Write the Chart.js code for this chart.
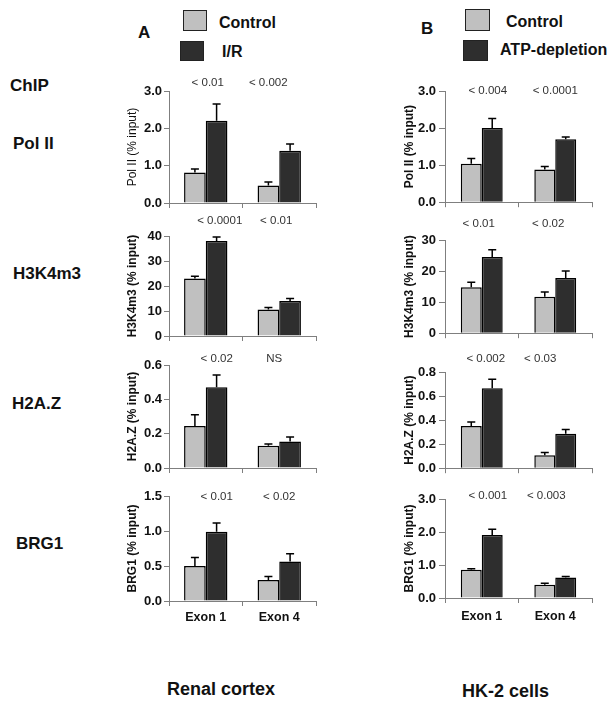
<!DOCTYPE html>
<html>
<head>
<meta charset="utf-8">
<script src="https://cdn.jsdelivr.net/npm/chart.js@4.4.1/dist/chart.umd.min.js"></script>
<style>
  body { margin: 0; background: #fff; }
  #fig { position: relative; width: 614px; height: 707px; overflow: hidden; font-family: "Liberation Sans", Arial, sans-serif; }
  .t { position: absolute; font-weight: bold; color: #111; white-space: nowrap; line-height: 1; transform: translateY(-50%); }
  .box { position: absolute; border: 1px solid #222; box-sizing: border-box; }
  canvas { position: absolute; }
</style>
</head>
<body>
<div id="fig">
  <div class="t" style="left:138px;top:32px;font-size:17px">A</div>
  <div class="t" style="left:421px;top:28px;font-size:17px">B</div>

  <div class="box" style="left:183px;top:10px;width:24px;height:21px;background:#c0c0c0"></div>
  <div class="box" style="left:180px;top:41px;width:24px;height:20px;background:#2e2e2e"></div>
  <div class="t" style="left:219px;top:23px;font-size:16px">Control</div>
  <div class="t" style="left:222px;top:52px;font-size:16px">I/R</div>

  <div class="box" style="left:465px;top:9px;width:25px;height:22px;background:#c0c0c0"></div>
  <div class="box" style="left:463px;top:40px;width:25px;height:21px;background:#2e2e2e"></div>
  <div class="t" style="left:506px;top:22px;font-size:16px">Control</div>
  <div class="t" style="left:500px;top:50px;font-size:16px">ATP-depletion</div>

  <div class="t" style="left:10px;top:85px;font-size:17px">ChIP</div>
  <div class="t" style="left:13px;top:143px;font-size:17px">Pol II</div>
  <div class="t" style="left:13px;top:273px;font-size:17px">H3K4m3</div>
  <div class="t" style="left:12px;top:403px;font-size:17px">H2A.Z</div>
  <div class="t" style="left:16px;top:543px;font-size:17px">BRG1</div>

  <div class="t" style="left:167px;top:689px;font-size:18px">Renal cortex</div>
  <div class="t" style="left:462px;top:691px;font-size:18px">HK-2 cells</div>
</div>

<script>
// categories
const EXONS = ['Exon 1', 'Exon 4'];

// A : renal cortex, Control vs I/R  (mean, error)
const A_POL2_CTRL = [0.82, 0.47];
const A_POL2_CTRL_ERR = [0.09, 0.09];
const A_POL2_IR = [2.2, 1.4];
const A_POL2_IR_ERR = [0.45, 0.18];
const A_POL2_P = ['< 0.01', '< 0.002'];

const A_H3K4_CTRL = [23, 10.6];
const A_H3K4_CTRL_ERR = [0.9, 0.8];
const A_H3K4_IR = [38, 14];
const A_H3K4_IR_ERR = [1.6, 1.0];
const A_H3K4_P = ['< 0.0001', '< 0.01'];

const A_H2AZ_CTRL = [0.245, 0.13];
const A_H2AZ_CTRL_ERR = [0.065, 0.01];
const A_H2AZ_IR = [0.47, 0.155];
const A_H2AZ_IR_ERR = [0.072, 0.025];
const A_H2AZ_P = ['< 0.02', 'NS'];

const A_BRG1_CTRL = [0.50, 0.30];
const A_BRG1_CTRL_ERR = [0.12, 0.05];
const A_BRG1_IR = [0.99, 0.565];
const A_BRG1_IR_ERR = [0.125, 0.11];
const A_BRG1_P = ['< 0.01', '< 0.02'];

// B : HK-2 cells, Control vs ATP-depletion
const B_POL2_CTRL = [1.04, 0.88];
const B_POL2_CTRL_ERR = [0.14, 0.08];
const B_POL2_ATP = [2.0, 1.7];
const B_POL2_ATP_ERR = [0.26, 0.06];
const B_POL2_P = ['< 0.004', '< 0.0001'];

const B_H3K4_CTRL = [14.8, 11.7];
const B_H3K4_CTRL_ERR = [1.6, 1.6];
const B_H3K4_ATP = [24.5, 17.8];
const B_H3K4_ATP_ERR = [2.4, 2.2];
const B_H3K4_P = ['< 0.01', '< 0.02'];

const B_H2AZ_CTRL = [0.35, 0.108];
const B_H2AZ_CTRL_ERR = [0.035, 0.022];
const B_H2AZ_ATP = [0.665, 0.286];
const B_H2AZ_ATP_ERR = [0.075, 0.035];
const B_H2AZ_P = ['< 0.002', '< 0.03'];

const B_BRG1_CTRL = [0.855, 0.40];
const B_BRG1_CTRL_ERR = [0.03, 0.05];
const B_BRG1_ATP = [1.91, 0.62];
const B_BRG1_ATP_ERR = [0.17, 0.03];
const B_BRG1_P = ['< 0.001', '< 0.003'];

// y tick labels
const TICKS_0_3 = [0, 1, 2, 3];
const TICKS_0_40 = [0, 10, 20, 30, 40];
const TICKS_0_30 = [0, 10, 20, 30];
const TICKS_0_06 = [0, 0.2, 0.4, 0.6];
const TICKS_0_08 = [0, 0.2, 0.4, 0.6, 0.8];
const TICKS_0_15 = [0, 0.5, 1.0, 1.5];

const FONT = '"Liberation Sans", Arial, sans-serif';
const LIGHT = '#c0c0c0';
const DARK = '#2e2e2e';
const AXIS = '#7f7f7f';
const PAD_TOP = 30;

// column geometry
const COLS = {
  A: { left: 110, width: 220, axisW: 59, padR: 14, titlePad: 15, tickLen: 5, tickPad: 2, xPad: 4, cat: 0.59 },
  B: { left: 385, width: 229, axisW: 60, padR: 22, titlePad: 17, tickLen: 6, tickPad: 3, xPad: 6, cat: 0.57 }
};

const PANELS = [
  { col: 'A', plot: [91, 203], ctrl: A_POL2_CTRL, ctrlErr: A_POL2_CTRL_ERR, trt: A_POL2_IR, trtErr: A_POL2_IR_ERR,
    p: A_POL2_P, pOff: [[2, -8], [-11, -8]], ticks: TICKS_0_3, dec: 1, title: 'Pol II (% input)', titleW: 'normal' },
  { col: 'A', plot: [236, 336], ctrl: A_H3K4_CTRL, ctrlErr: A_H3K4_CTRL_ERR, trt: A_H3K4_IR, trtErr: A_H3K4_IR_ERR,
    p: A_H3K4_P, pOff: [[14, -15], [-3, -15]], ticks: TICKS_0_40, dec: 0, title: 'H3K4m3 (% input)', titleW: 'bold' },
  { col: 'A', plot: [365, 468], ctrl: A_H2AZ_CTRL, ctrlErr: A_H2AZ_CTRL_ERR, trt: A_H2AZ_IR, trtErr: A_H2AZ_IR_ERR,
    p: A_H2AZ_P, pOff: [[11, -6], [-5, -6]], ticks: TICKS_0_06, dec: 1, title: 'H2A.Z (% input)', titleW: 'bold' },
  { col: 'A', plot: [496, 601], ctrl: A_BRG1_CTRL, ctrlErr: A_BRG1_CTRL_ERR, trt: A_BRG1_IR, trtErr: A_BRG1_IR_ERR,
    p: A_BRG1_P, pOff: [[11, 1], [0, 1]], ticks: TICKS_0_15, dec: 1, title: 'BRG1 (% input)', titleW: 'bold', bottom: true },

  { col: 'B', plot: [91, 203], ctrl: B_POL2_CTRL, ctrlErr: B_POL2_CTRL_ERR, trt: B_POL2_ATP, trtErr: B_POL2_ATP_ERR,
    p: B_POL2_P, pOff: [[6, 0], [0, 0]], ticks: TICKS_0_3, dec: 1, title: 'Pol II (% input)', titleW: 'bold' },
  { col: 'B', plot: [240, 334], ctrl: B_H3K4_CTRL, ctrlErr: B_H3K4_CTRL_ERR, trt: B_H3K4_ATP, trtErr: B_H3K4_ATP_ERR,
    p: B_H3K4_P, pOff: [[-3, -16], [-7, -16]], ticks: TICKS_0_30, dec: 0, title: 'H3K4m3 (% input)', titleW: 'bold' },
  { col: 'B', plot: [372, 469], ctrl: B_H2AZ_CTRL, ctrlErr: B_H2AZ_CTRL_ERR, trt: B_H2AZ_ATP, trtErr: B_H2AZ_ATP_ERR,
    p: B_H2AZ_P, pOff: [[4, -13], [-15, -13]], ticks: TICKS_0_08, dec: 1, title: 'H2A.Z (% input)', titleW: 'bold' },
  { col: 'B', plot: [499, 598], ctrl: B_BRG1_CTRL, ctrlErr: B_BRG1_CTRL_ERR, trt: B_BRG1_ATP, trtErr: B_BRG1_ATP_ERR,
    p: B_BRG1_P, pOff: [[6, -3], [-9, -3]], ticks: TICKS_0_3, dec: 1, title: 'BRG1 (% input)', titleW: 'bold', bottom: true }
];

// error bars (upper only) and p-value labels
function makeAnnot(panel) {
  return {
    id: 'annot',
    afterDatasetsDraw(chart) {
      const ctx = chart.ctx;
      const ys = chart.scales.y;
      const xs = chart.scales.x;
      ctx.save();
      ctx.strokeStyle = '#000';
      ctx.lineWidth = 1.5;
      chart.data.datasets.forEach((ds, di) => {
        chart.getDatasetMeta(di).data.forEach((bar, i) => {
          const yTop = ys.getPixelForValue(ds.data[i] + ds.err[i]);
          ctx.beginPath();
          ctx.moveTo(bar.x, bar.y);
          ctx.lineTo(bar.x, yTop);
          ctx.moveTo(bar.x - 4, yTop);
          ctx.lineTo(bar.x + 4, yTop);
          ctx.stroke();
        });
      });
      ctx.fillStyle = '#333';
      ctx.font = '11.5px ' + FONT;
      ctx.textAlign = 'center';
      ctx.textBaseline = 'middle';
      panel.p.forEach((txt, i) => {
        ctx.fillText(txt, xs.getPixelForValue(i) + panel.pOff[i][0], chart.chartArea.top + panel.pOff[i][1]);
      });
      ctx.restore();
    }
  };
}

const fig = document.getElementById('fig');

PANELS.forEach(panel => {
  const col = COLS[panel.col];
  const xh = panel.bottom ? 30 : 10;
  const top = panel.plot[0] - PAD_TOP;
  const height = PAD_TOP + (panel.plot[1] - panel.plot[0]) + xh;

  const canvas = document.createElement('canvas');
  canvas.width = col.width;
  canvas.height = height;
  canvas.style.left = col.left + 'px';
  canvas.style.top = top + 'px';
  canvas.style.width = col.width + 'px';
  canvas.style.height = height + 'px';
  fig.appendChild(canvas);

  new Chart(canvas.getContext('2d'), {
    type: 'bar',
    data: {
      labels: EXONS,
      datasets: [
        { data: panel.ctrl, err: panel.ctrlErr, backgroundColor: LIGHT },
        { data: panel.trt, err: panel.trtErr, backgroundColor: DARK }
      ]
    },
    options: {
      responsive: false,
      animation: false,
      devicePixelRatio: 1,
      datasets: {
        bar: { barPercentage: 1.0, categoryPercentage: col.cat, borderColor: '#000', borderWidth: 1.5 }
      },
      layout: { padding: { top: PAD_TOP, right: col.padR, left: 0, bottom: 0 } },
      plugins: { legend: { display: false }, tooltip: { enabled: false } },
      scales: {
        x: {
          afterFit: s => { s.height = xh; },
          border: { color: AXIS, width: 1 },
          grid: { offset: true, drawOnChartArea: false, tickLength: 5, color: AXIS },
          ticks: { display: !!panel.bottom, color: '#111', padding: col.xPad, font: { family: FONT, size: 12.5, weight: 'bold' } }
        },
        y: {
          min: panel.ticks[0],
          max: panel.ticks[panel.ticks.length - 1],
          afterBuildTicks: s => { s.ticks = panel.ticks.map(v => ({ value: v })); },
          afterFit: s => { s.width = col.axisW; },
          border: { color: AXIS, width: 1 },
          grid: { drawOnChartArea: false, tickLength: col.tickLen, color: AXIS },
          ticks: {
            color: '#111',
            padding: col.tickPad,
            font: { family: FONT, size: 13, weight: 'bold' },
            callback: v => Number(v).toFixed(panel.dec)
          },
          title: {
            display: true,
            text: panel.title,
            color: '#111',
            padding: { top: col.titlePad, bottom: 0 },
            font: { family: FONT, size: 12, weight: panel.titleW }
          }
        }
      }
    },
    plugins: [makeAnnot(panel)]
  });
});
</script>
</body>
</html>
